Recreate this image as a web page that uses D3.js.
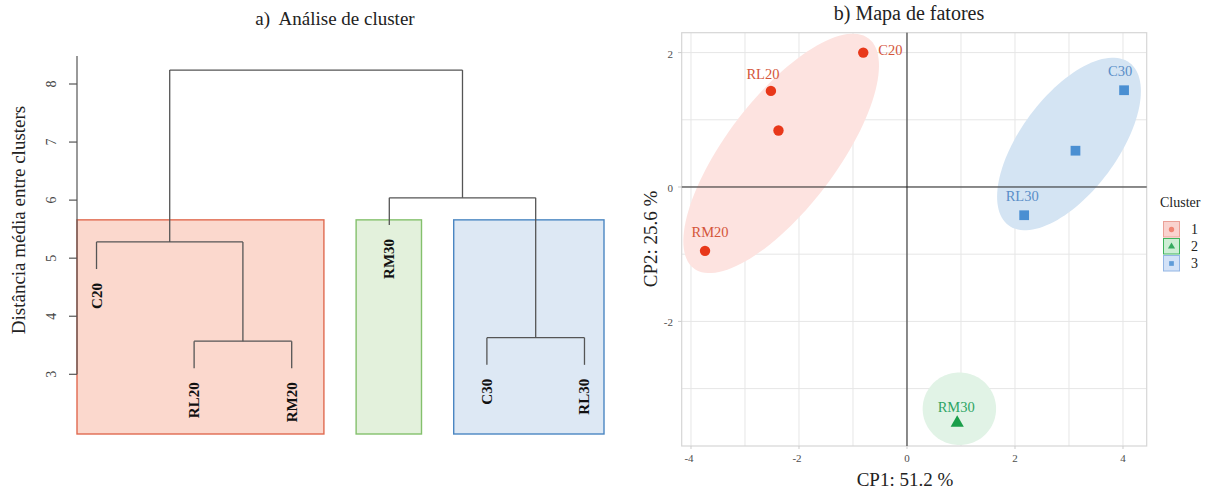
<!DOCTYPE html>
<html>
<head>
<meta charset="utf-8">
<script src="https://cdn.jsdelivr.net/npm/d3@7"></script>
<style>
  body { margin: 0; background: #fff; }
  svg { font-family: "Liberation Serif", "DejaVu Serif", serif; }
</style>
</head>
<body>
<svg width="1212" height="494"></svg>
<script>
// ====== Dados : dendrograma ====== //
const leafLabels  = ["C20", "RL20", "RM20", "RM30", "C30", "RL30"];
const leafCluster = [1, 1, 1, 2, 3, 3];
const mergeIds    = ["m1", "m2", "m3", "m4", "m5"];
const mergeLeft   = ["RL20", "C30", "C20", "RM30", "m3"];
const mergeRight  = ["RM20", "RL30", "m1", "m2", "m4"];
const mergeHeight = [3.57, 3.63, 5.28, 6.04, 8.24];
const dendroTicks = [3, 4, 5, 6, 7, 8];

// ====== Dados : mapa de fatores ====== //
const pointLabels  = ["C20", "RL20", "", "RM20", "C30", "", "RL30", "RM30"];
const pointCluster = [1, 1, 1, 1, 3, 3, 3, 2];
const cp1 = [-0.81, -2.52, -2.38, -3.74, 4.02, 3.12, 2.17, 0.93];
const cp2 = [2.00, 1.43, 0.84, -0.95, 1.44, 0.54, -0.42, -3.51];
const clusterIds = [1, 2, 3];
// elipses : centro + dois semi-eixos (unidades dos dados)
const ellipseCx = [-2.33, 0.97, 3.00];
const ellipseCy = [0.50, -3.30, 0.64];
const ellipseAx = [1.62, 0.68, 1.12];
const ellipseAy = [1.71, 0.00, 1.21];
const ellipseBx = [0.81, 0.00, 0.72];
const ellipseBy = [-0.50, 0.54, -0.43];
const xTicks = [-4, -2, 0, 2, 4];
const yTicks = [-2, 0, 2];
const xGrid = [-4, -3, -2, -1, 0, 1, 2, 3, 4];
const yGrid = [-3, -2, -1, 0, 1, 2];

// cores
const boxFill   = {1: "#fbd8cd", 2: "#e3f1dc", 3: "#dde8f4"};
const boxStroke = {1: "#e06a50", 2: "#84c06c", 3: "#4a86c2"};
const ptColor   = {1: "#e8381a", 2: "#1a9e4a", 3: "#4a8fd2"};
const lblColor  = {1: "#d4553a", 2: "#2ea564", 3: "#5a8ec8"};
const ellFill   = {1: "#fde3e0", 2: "#e1f3e6", 3: "#d4e4f3"};
const keyFill   = {1: "#f9d3cf", 2: "#cdeed5", 3: "#d3e2f7"};
const keyStroke = {1: "#eaa198", 2: "#3db45c", 3: "#93b6e4"};

const svg = d3.select("svg");

// ================= a) Análise de cluster =================== //
const xD = d3.scaleLinear().domain([0.8, 6.2]).range([77, 604]);
const yD = d3.scaleLinear().domain([3, 8]).range([374.3, 84]);
const plotBottom = 434, plotTop = 56;

const gA = svg.append("g");

// altura e posicao de cada no
const hang = 0.1 * (d3.max(mergeHeight) - d3.min(mergeHeight));
const nodeX = {}, nodeH = {};
leafLabels.forEach((l, i) => { nodeX[l] = i + 1; });
mergeIds.forEach((m, i) => {
  nodeX[m] = (nodeX[mergeLeft[i]] + nodeX[mergeRight[i]]) / 2;
  nodeH[m] = mergeHeight[i];
});

// retangulos dos clusters (rect.hclust, k = 3)
const sortedH = mergeHeight.slice().sort((a, b) => b - a);
const rectTop = (sortedH[1] + sortedH[2]) / 2;
clusterIds.forEach(c => {
  const idx = leafCluster.map((v, i) => v === c ? i + 1 : null).filter(v => v !== null);
  const x0 = Math.max(d3.min(idx) - 0.34, 0.8);
  const x1 = Math.min(d3.max(idx) + 0.33, 6.2);
  gA.append("rect")
    .attr("x", xD(x0)).attr("y", yD(rectTop))
    .attr("width", xD(x1) - xD(x0))
    .attr("height", plotBottom - yD(rectTop))
    .attr("fill", boxFill[c])
    .attr("stroke", boxStroke[c])
    .attr("stroke-width", 1.4);
});

// ramos
mergeIds.forEach((m, i) => {
  const h = mergeHeight[i];
  const kids = [mergeLeft[i], mergeRight[i]];
  gA.append("line")
    .attr("x1", xD(nodeX[kids[0]])).attr("x2", xD(nodeX[kids[1]]))
    .attr("y1", yD(h)).attr("y2", yD(h))
    .attr("stroke", "#555").attr("stroke-width", 1.3);
  kids.forEach(k => {
    const hEnd = nodeH[k] !== undefined ? nodeH[k] : h - hang;
    gA.append("line")
      .attr("x1", xD(nodeX[k])).attr("x2", xD(nodeX[k]))
      .attr("y1", yD(h)).attr("y2", yD(hEnd))
      .attr("stroke", "#555").attr("stroke-width", 1.3);
    if (nodeH[k] === undefined) {
      gA.append("text")
        .attr("transform", `translate(${xD(nodeX[k])},${yD(hEnd) + 14}) rotate(-90)`)
        .attr("text-anchor", "end")
        .attr("dominant-baseline", "central")
        .attr("font-size", 15)
        .attr("font-weight", "bold")
        .attr("fill", "#111")
        .text(k);
    }
  });
});

// eixo y
gA.append("line")
  .attr("x1", 77).attr("x2", 77)
  .attr("y1", plotTop).attr("y2", yD(3))
  .attr("stroke", "#555").attr("stroke-width", 1.2);
dendroTicks.forEach(t => {
  gA.append("line")
    .attr("x1", 69).attr("x2", 77)
    .attr("y1", yD(t)).attr("y2", yD(t))
    .attr("stroke", "#555").attr("stroke-width", 1.2);
  gA.append("text")
    .attr("transform", `translate(51,${yD(t)}) rotate(-90)`)
    .attr("text-anchor", "middle")
    .attr("dominant-baseline", "central")
    .attr("font-size", 14)
    .attr("fill", "#444")
    .text(t);
});

gA.append("text")
  .attr("transform", "translate(18,220) rotate(-90)")
  .attr("text-anchor", "middle")
  .attr("dominant-baseline", "central")
  .attr("font-size", 19)
  .attr("fill", "#222")
  .text("Distância média entre clusters");

gA.append("text")
  .attr("x", 335).attr("y", 25)
  .attr("text-anchor", "middle")
  .attr("font-size", 19)
  .attr("fill", "#222")
  .attr("xml:space", "preserve")
  .text("a)  Análise de cluster");

// ================= b) Mapa de fatores =================== //
const xP = d3.scaleLinear().domain([-4.172, 4.439]).range([681.7, 1146.7]);
const yP = d3.scaleLinear().domain([-3.854, 2.296]).range([446, 32.7]);

const gB = svg.append("g");

gB.append("clipPath").attr("id", "panel")
  .append("rect")
  .attr("x", xP.range()[0]).attr("y", yP.range()[1])
  .attr("width", xP.range()[1] - xP.range()[0])
  .attr("height", yP.range()[0] - yP.range()[1]);

// grade
xGrid.forEach(v => {
  gB.append("line")
    .attr("x1", xP(v)).attr("x2", xP(v))
    .attr("y1", yP.range()[1]).attr("y2", yP.range()[0])
    .attr("stroke", "#e6e6e6").attr("stroke-width", 1);
});
yGrid.forEach(v => {
  gB.append("line")
    .attr("x1", xP.range()[0]).attr("x2", xP.range()[1])
    .attr("y1", yP(v)).attr("y2", yP(v))
    .attr("stroke", "#e6e6e6").attr("stroke-width", 1);
});
gB.append("rect")
  .attr("x", xP.range()[0]).attr("y", yP.range()[1])
  .attr("width", xP.range()[1] - xP.range()[0])
  .attr("height", yP.range()[0] - yP.range()[1])
  .attr("fill", "none").attr("stroke", "#d6d6d6").attr("stroke-width", 1.2);

// elipses
const ellLine = d3.line().curve(d3.curveLinearClosed);
const inner = gB.append("g").attr("clip-path", "url(#panel)");
clusterIds.forEach((c, i) => {
  const pts = d3.range(0, 2 * Math.PI, Math.PI / 60).map(t => [
    xP(ellipseCx[i] + ellipseAx[i] * Math.cos(t) + ellipseBx[i] * Math.sin(t)),
    yP(ellipseCy[i] + ellipseAy[i] * Math.cos(t) + ellipseBy[i] * Math.sin(t))
  ]);
  inner.append("path")
    .attr("d", ellLine(pts))
    .attr("fill", ellFill[c]);
});

// linhas zero
gB.append("line")
  .attr("x1", xP.range()[0]).attr("x2", xP.range()[1])
  .attr("y1", yP(0)).attr("y2", yP(0))
  .attr("stroke", "#222").attr("stroke-width", 1);
gB.append("line")
  .attr("x1", xP(0)).attr("x2", xP(0))
  .attr("y1", yP.range()[1]).attr("y2", yP.range()[0])
  .attr("stroke", "#222").attr("stroke-width", 1);

// simbolos
const symType = {1: d3.symbolCircle, 2: d3.symbolTriangle, 3: d3.symbolSquare};
const symSize = {1: 85, 2: 75, 3: 95};
cp1.forEach((v, i) => {
  const c = pointCluster[i];
  gB.append("path")
    .attr("transform", `translate(${xP(v)},${yP(cp2[i])})`)
    .attr("d", d3.symbol().type(symType[c]).size(symSize[c])())
    .attr("fill", ptColor[c]);
});

// rotulos (posicao ajustada como no ggrepel)
const labelNudge = {
  C20: [15, -3, "start"], RL20: [-8, -17, "middle"], RM20: [5, -19, "middle"],
  C30: [-4, -19, "middle"], RL30: [-2, -19, "middle"], RM30: [-1, -16, "middle"]
};
cp1.forEach((v, i) => {
  const lab = pointLabels[i];
  if (!lab) return;
  const n = labelNudge[lab];
  gB.append("text")
    .attr("x", xP(v) + n[0]).attr("y", yP(cp2[i]) + n[1])
    .attr("text-anchor", n[2])
    .attr("dominant-baseline", "central")
    .attr("font-size", 14.5)
    .attr("fill", lblColor[pointCluster[i]])
    .text(lab);
});

// eixos
xTicks.forEach(t => {
  gB.append("line")
    .attr("x1", xP(t)).attr("x2", xP(t))
    .attr("y1", 446).attr("y2", 449)
    .attr("stroke", "#ccc");
  gB.append("text")
    .attr("x", xP(t) - (t < 0 ? 2 : 0)).attr("y", 458)
    .attr("text-anchor", "middle").attr("dominant-baseline", "central")
    .attr("font-size", 11).attr("fill", "#4d4d4d")
    .text(t);
});
yTicks.forEach(t => {
  gB.append("line")
    .attr("x1", 678).attr("x2", 681.7)
    .attr("y1", yP(t)).attr("y2", yP(t))
    .attr("stroke", "#ccc");
  gB.append("text")
    .attr("x", 673).attr("y", yP(t) + 1)
    .attr("text-anchor", "end").attr("dominant-baseline", "central")
    .attr("font-size", 11).attr("fill", "#4d4d4d")
    .text(t);
});

gB.append("text")
  .attr("x", 905).attr("y", 486)
  .attr("text-anchor", "middle")
  .attr("font-size", 19).attr("fill", "#222")
  .text("CP1: 51.2 %");
gB.append("text")
  .attr("transform", "translate(650,239) rotate(-90)")
  .attr("text-anchor", "middle").attr("dominant-baseline", "central")
  .attr("font-size", 19).attr("fill", "#222")
  .text("CP2: 25.6 %");
gB.append("text")
  .attr("x", 909).attr("y", 20)
  .attr("text-anchor", "middle")
  .attr("font-size", 20).attr("fill", "#222")
  .text("b) Mapa de fatores");

// legenda
const leg = gB.append("g").attr("transform", "translate(1160,0)");
leg.append("text")
  .attr("x", 0).attr("y", 207)
  .attr("font-size", 14).attr("fill", "#222")
  .text("Cluster");
clusterIds.forEach((c, i) => {
  const y0 = 221 + i * 17;
  leg.append("rect")
    .attr("x", 3.5).attr("y", y0 + 0.5)
    .attr("width", 16).attr("height", 15.5)
    .attr("fill", keyFill[c]).attr("stroke", keyStroke[c]).attr("stroke-width", 1);
  leg.append("path")
    .attr("transform", `translate(11.5,${y0 + 8.5})`)
    .attr("d", d3.symbol().type(symType[c]).size(22)())
    .attr("fill", ptColor[c]).attr("opacity", c === 1 ? 0.5 : 0.85);
  leg.append("text")
    .attr("x", 31).attr("y", y0 + 8.5)
    .attr("dominant-baseline", "central")
    .attr("font-size", 14).attr("fill", "#222")
    .text(c);
});
</script>
</body>
</html>
